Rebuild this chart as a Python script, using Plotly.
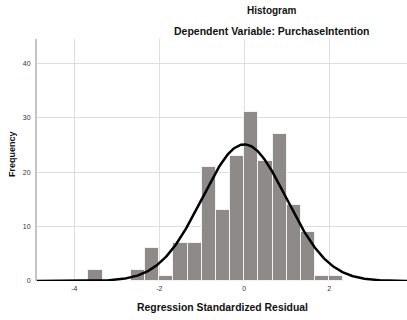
import numpy as np
import plotly.graph_objects as go

# Histogram bins (left edges) and counts
bin_width = 1/3
bin_left_edges = [-11/3, -8/3, -7/3, -2.0, -5/3, -4/3, -1.0, -2/3, -1/3,
                  0.0, 1/3, 2/3, 1.0, 4/3, 5/3, 2.0]
counts = [2, 2, 6, 1, 7, 7, 21, 13, 23, 31, 22, 27, 14, 9, 1, 1]

# Normal curve parameters (SPSS fit)
resid_mean = 0.0
resid_std = 0.99
n_obs = 187

x_ticks = [-4, -2, 0, 2]
y_ticks = [0, 10, 20, 30, 40]
x_range = [-4.877, 3.83]
y_range = [0, 44.5]

centers = [e + bin_width / 2 for e in bin_left_edges]

xc = np.linspace(x_range[0], x_range[1], 400)
yc = n_obs * bin_width * np.exp(-0.5 * ((xc - resid_mean) / resid_std) ** 2) / (resid_std * np.sqrt(2 * np.pi))

fig = go.Figure()
fig.add_trace(go.Bar(
    x=centers, y=counts, width=bin_width,
    marker=dict(color="#8e8a8a", line=dict(color="#f2f2f2", width=1)),
    showlegend=False, hoverinfo="skip"))
fig.add_trace(go.Scatter(
    x=xc, y=yc, mode="lines", line=dict(color="black", width=2.5),
    showlegend=False, hoverinfo="skip", cliponaxis=True))

font_family = "Liberation Sans, Arial, sans-serif"

fig.update_layout(
    width=407, height=320,
    margin=dict(l=37, r=0, t=39, b=39),
    paper_bgcolor="white", plot_bgcolor="white",
    bargap=0,
    font=dict(family=font_family, color="#222"),
    xaxis=dict(range=x_range, tickvals=x_ticks, ticktext=[str(v) for v in x_ticks],
               showgrid=True, gridcolor="#dedede", gridwidth=1,
               zeroline=False, showline=False, ticks="",
               tickfont=dict(size=7, color="#333333"), ticklabelstandoff=2),
    yaxis=dict(range=y_range, tickvals=y_ticks, ticktext=[str(v) for v in y_ticks],
               showgrid=True, gridcolor="#dedede", gridwidth=1,
               zeroline=False, showline=True, linecolor="#c4c4c4", linewidth=2,
               ticks="", tickfont=dict(size=7, color="#333333"), ticklabelstandoff=3),
    annotations=[
        dict(text="<b>Histogram</b>", x=272, y=11, xref="paper", yref="paper",
             showarrow=False, font=dict(size=10, color="#111")),
        dict(text="<b>Dependent Variable: PurchaseIntention</b>", x=271, y=31,
             xref="paper", yref="paper", showarrow=False, font=dict(size=10.5, color="#111")),
        dict(text="<b>Regression Standardized Residual</b>", x=222.5, y=307,
             xref="paper", yref="paper", showarrow=False, font=dict(size=10.4, color="#111")),
        dict(text="<b>Frequency</b>", x=12, y=154, xref="paper", yref="paper",
             showarrow=False, textangle=-90, font=dict(size=9, color="#111")),
    ],
)

# convert pixel positions of annotations to paper coords
pw, ph = 407 - 37 - 0, 320 - 39 - 39
for a in fig.layout.annotations:
    px, py = a.x, a.y
    a.x = (px - 37) / pw
    a.y = 1 - (py - 39) / ph
    a.xanchor = "center"
    a.yanchor = "middle"

fig.write_html("out.html")
